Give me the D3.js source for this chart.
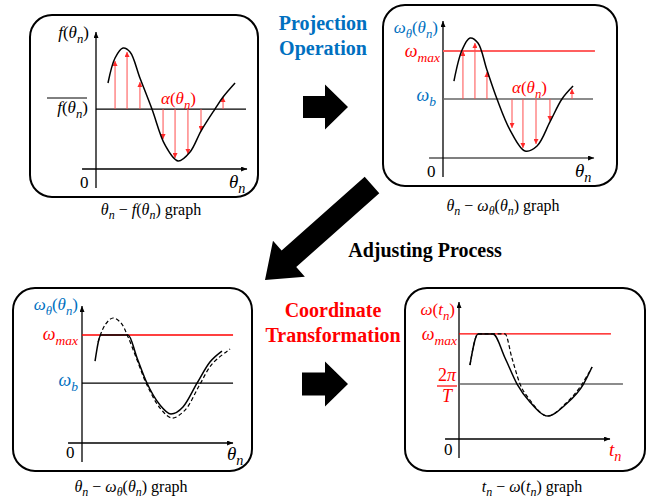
<!DOCTYPE html>
<html>
<head>
<meta charset="utf-8">
<script src="https://cdn.jsdelivr.net/npm/d3@7"></script>
<style>
  body { margin: 0; background: #fff; }
</style>
</head>
<body>
<div id="chart"></div>
<script>
// --- data (in each panel's 0..10 units) ---
const curveProj = [[0.8,6.37],[1.27,8.22],[1.8,8.96],[2.27,8.67],[2.93,6.74],[3.73,4.44],[4.6,1.78],[5.47,0.59],[6.27,1.26],[7,2.81],[7.93,4.44],[8.47,5.33],[9.27,6.37]];
const meanProj = 4.44;
const alphaProj = [[1.27,8.0],[2.07,8.67],[2.93,6.44],[4.47,2.22],[5.27,0.81],[6.13,1.11],[7.0,2.81],[8.47,5.33]];

const curveOmega = [[0.73,5.7],[1.27,8.0],[1.8,8.89],[2.33,8.52],[2.93,6.52],[3.6,4.37],[4.47,2.07],[5.47,0.52],[6.27,0.89],[7.13,2.67],[7.93,4.37],[8.67,5.33]];
const omegaB = 4.37;
const omegaMax = 7.93;
const alphaOmega = [[1.33,7.93],[2.13,8.52],[2.93,6.37],[4.6,2.22],[5.33,0.74],[6.2,1.04],[7.13,2.74],[8.6,5.11]];

const adjSolid = [[0.87,6.07],[1.27,8.0],[3.07,8.0],[3.67,6.3],[4.33,4.44],[5.2,2.81],[5.93,2.15],[6.73,2.67],[7.67,4.44],[8.53,6.0],[9.33,6.81]];
const adjDashed = [[1.07,7.48],[1.53,8.74],[2.07,9.26],[2.6,8.89],[3.07,7.85],[3.67,6.15],[4.33,4.3],[5.2,2.59],[6.0,1.85],[6.87,2.44],[7.8,4.22],[8.67,5.85],[9.87,6.96]];
const adjMax = 8.0, adjB = 4.44;

const timeSolid = [[0.73,5.48],[1.27,7.78],[2.27,7.78],[3.07,6.0],[3.87,4.07],[4.73,2.74],[5.93,1.7],[7.07,2.52],[8.3,4.07],[8.87,5.33]];
const timeDashed = [[0.73,5.48],[1.27,7.78],[3.07,7.78],[3.53,6.0],[4.07,4.07],[4.73,2.89],[5.93,1.7],[7.07,2.59],[8.1,3.9],[8.87,5.33]];
const timeMax = 7.78, timeBase = 4.07;

const stepTitles = [
  { lines: ["Projection", "Operation"], color: "#0070c0" },
  { lines: ["Adjusting Process"], color: "#000" },
  { lines: ["Coordinate", "Transformation"], color: "#ff0000" }
];

// --- setup ---
const width = 653, height = 502;
const serif = "'Liberation Serif', 'Noto Serif', serif";
const blue = "#0070c0", red = "#ff0000";

const svg = d3.select("#chart").append("svg")
  .attr("width", width).attr("height", height)
  .attr("viewBox", `0 0 ${width} ${height}`);

const defs = svg.append("defs");
function marker(id, color, w, h) {
  defs.append("marker")
    .attr("id", id).attr("viewBox", `0 0 ${w} ${h}`)
    .attr("refX", w).attr("refY", h / 2)
    .attr("markerWidth", w).attr("markerHeight", h)
    .attr("markerUnits", "userSpaceOnUse")
    .attr("orient", "auto")
    .append("path").attr("d", `M0,0L${w},${h / 2}L0,${h}Z`).attr("fill", color);
}
marker("axisHead", "#000", 6, 5);
marker("redHead", "#ff2a2a", 5, 5);

// small math typesetter: "ω_{max}", "f(θ_n)"
function mathText(parent, x, y, src, o = {}) {
  const size = o.size || 17;
  const t = parent.append("text")
    .attr("x", x).attr("y", y)
    .attr("text-anchor", o.anchor || "start")
    .style("font-family", serif).attr("font-size", size)
    .attr("fill", o.color || "#000");
  const re = /_\{([^}]*)\}|_(.)|([^_]+)/g;
  const subDy = size * 0.28;
  let m, shifted = false;
  while ((m = re.exec(src))) {
    const sub = m[1] !== undefined ? m[1] : m[2];
    if (sub !== undefined) {
      t.append("tspan").attr("dy", shifted ? 0 : subDy)
        .attr("font-size", size * 0.75).style("font-style", "italic").text(sub);
      shifted = true;
    } else {
      const runs = m[3].match(/[A-Za-z\u03b1-\u03c9]+|[^A-Za-z\u03b1-\u03c9]+/g);
      runs.forEach((r, i) => {
        const ts = t.append("tspan")
          .style("font-style", /[A-Za-z\u03b1-\u03c9]/.test(r) ? "italic" : "normal")
          .text(r);
        if (shifted && i === 0) ts.attr("dy", -subDy);
      });
      shifted = false;
    }
  }
  if (o.suffix) {
    t.append("tspan").attr("dy", shifted ? -subDy : 0)
      .style("font-style", "normal").text(o.suffix);
  }
  return t;
}

function makePanel(p) {
  const g = svg.append("g");
  g.append("rect")
    .attr("x", p.box[0]).attr("y", p.box[1])
    .attr("width", p.box[2] - p.box[0]).attr("height", p.box[3] - p.box[1])
    .attr("rx", 22).attr("ry", 22)
    .attr("fill", "none").attr("stroke", "#000").attr("stroke-width", 2);

  const x = d3.scaleLinear().domain([0, 10]).range([p.ox, p.ox + 150]);
  const y = d3.scaleLinear().domain([0, 10]).range([p.oy, p.oy - 135]);

  // axes
  g.append("line")
    .attr("x1", x(-0.93)).attr("x2", x(10.07)).attr("y1", y(0)).attr("y2", y(0))
    .attr("stroke", p.axisColor || "#000").attr("stroke-width", 1.3)
    .attr("marker-end", "url(#axisHead)");
  g.append("line")
    .attr("x1", x(0)).attr("x2", x(0)).attr("y1", y(-1.4)).attr("y2", y(10.15))
    .attr("stroke", "#000").attr("stroke-width", 1.3)
    .attr("marker-end", "url(#axisHead)");

  mathText(g, p.zero[0], p.zero[1], "0", { size: 17 });
  mathText(g, p.xLabel[0], p.xLabel[1], p.xText, { size: 19, color: p.xColor });
  mathText(g, p.yLabel[0], p.yLabel[1], p.yText, { size: 17, anchor: "end", color: p.yColor });
  mathText(g, p.caption[0], p.caption[1], p.capText, { size: 16, anchor: "middle", suffix: " graph" });
  return { g, x, y };
}

function hline(g, x, y, v, x0, x1, color, w) {
  g.append("line")
    .attr("x1", x(x0)).attr("x2", x(x1)).attr("y1", y(v)).attr("y2", y(v))
    .attr("stroke", color).attr("stroke-width", w);
}

function drawCurve(g, x, y, pts, curve, dashed) {
  const line = d3.line().x(d => x(d[0])).y(d => y(d[1])).curve(curve);
  g.append("path").datum(pts)
    .attr("d", line)
    .attr("fill", "none").attr("stroke", "#000")
    .attr("stroke-width", dashed ? 1.2 : 1.5)
    .attr("stroke-dasharray", dashed ? "4,2.5" : null);
}

function drawAlpha(g, x, y, pts, base) {
  g.selectAll(null).data(pts).join("line")
    .attr("x1", d => x(d[0])).attr("x2", d => x(d[0]))
    .attr("y1", y(base)).attr("y2", d => y(d[1]))
    .attr("stroke", "#ff4d4d").attr("stroke-width", 1)
    .attr("marker-end", "url(#redHead)");
}

// --- panel 1: θn − f(θn) ---
const p1 = makePanel({
  box: [30, 15, 258, 197], ox: 96, oy: 169,
  zero: [80, 188], xLabel: [229, 188], xText: "θ_n",
  yLabel: [89, 38], yText: "f(θ_n)",
  caption: [151, 215], capText: "θ_n − f(θ_n)"
});
hline(p1.g, p1.x, p1.y, meanProj, 0, 10, "#000", 1.3);
drawAlpha(p1.g, p1.x, p1.y, alphaProj, meanProj);
drawCurve(p1.g, p1.x, p1.y, curveProj, d3.curveCatmullRom, false);
mathText(p1.g, 88, 113, "f(θ_n)", { size: 17, anchor: "end" });
p1.g.append("line").attr("x1", 47).attr("x2", 87).attr("y1", 98).attr("y2", 98)
  .attr("stroke", "#000").attr("stroke-width", 1);
mathText(p1.g, 161, 104, "α(θ_n)", { size: 17, color: red });

// --- panel 2: θn − ωθ(θn) ---
const p2 = makePanel({
  box: [383, 5, 617, 186], ox: 443, oy: 158, axisColor: "#555",
  zero: [427, 177], xLabel: [575, 177], xText: "θ_n",
  yLabel: [438, 33], yText: "ω_θ(θ_n)", yColor: blue,
  caption: [503, 211], capText: "θ_n − ω_θ(θ_n)"
});
hline(p2.g, p2.x, p2.y, omegaMax, 0, 10.13, "#ff5f5f", 2);
hline(p2.g, p2.x, p2.y, omegaB, 0, 10, "#666", 1.6);
drawAlpha(p2.g, p2.x, p2.y, alphaOmega, omegaB);
drawCurve(p2.g, p2.x, p2.y, curveOmega, d3.curveCatmullRom, false);
mathText(p2.g, 440, 57, "ω_{max}", { size: 18, anchor: "end", color: red });
mathText(p2.g, 436, 101, "ω_b", { size: 18, anchor: "end", color: blue });
mathText(p2.g, 512, 93, "α(θ_n)", { size: 17, color: red });

// --- panel 3: adjusted θn − ωθ(θn) ---
const p3 = makePanel({
  box: [13, 288, 252, 471], ox: 82, oy: 443,
  zero: [66, 458], xLabel: [227, 460], xText: "θ_n",
  yLabel: [78, 310], yText: "ω_θ(θ_n)", yColor: blue,
  caption: [131, 492], capText: "θ_n − ω_θ(θ_n)"
});
hline(p3.g, p3.x, p3.y, adjMax, 0, 10.07, red, 1.3);
hline(p3.g, p3.x, p3.y, adjB, 0, 10.07, "#000", 1.3);
drawCurve(p3.g, p3.x, p3.y, adjDashed, d3.curveCatmullRom, true);
drawCurve(p3.g, p3.x, p3.y, adjSolid, d3.curveMonotoneX, false);
mathText(p3.g, 78, 340, "ω_{max}", { size: 18, anchor: "end", color: red });
mathText(p3.g, 78, 386, "ω_b", { size: 18, anchor: "end", color: blue });

// --- panel 4: tn − ω(tn) ---
const p4 = makePanel({
  box: [405, 288, 645, 471], ox: 459, oy: 439,
  zero: [444, 455], xLabel: [609, 456], xText: "t_n", xColor: red,
  yLabel: [455, 315], yText: "ω(t_n)", yColor: red,
  caption: [532, 492], capText: "t_n − ω(t_n)"
});
hline(p4.g, p4.x, p4.y, timeMax, 0, 10.13, red, 1.3);
hline(p4.g, p4.x, p4.y, timeBase, 0.07, 10.93, "#666", 1.6);
drawCurve(p4.g, p4.x, p4.y, timeDashed, d3.curveMonotoneX, true);
drawCurve(p4.g, p4.x, p4.y, timeSolid, d3.curveMonotoneX, false);
mathText(p4.g, 457, 340, "ω_{max}", { size: 18, anchor: "end", color: red });
mathText(p4.g, 447, 381, "2π", { size: 18, anchor: "middle", color: red });
p4.g.append("line").attr("x1", 437).attr("x2", 457).attr("y1", 386).attr("y2", 386)
  .attr("stroke", red).attr("stroke-width", 1.2);
mathText(p4.g, 447, 402, "T", { size: 18, anchor: "middle", color: red });

// --- block arrows between panels ---
const flowArrows = [
  { tail: [303, 107], tip: [348, 107], sw: 22, hl: 23, hw: 45 },
  { tail: [302, 384], tip: [348, 384], sw: 23, hl: 23, hw: 45 },
  { tail: [372, 185], tip: [265, 280], sw: 22, hl: 32, hw: 48 }
];
function blockArrow(a) {
  const dx = a.tip[0] - a.tail[0], dy = a.tip[1] - a.tail[1];
  const L = Math.hypot(dx, dy), ux = dx / L, uy = dy / L, nx = -uy, ny = ux;
  const bx = a.tip[0] - ux * a.hl, by = a.tip[1] - uy * a.hl;
  const pts = [
    [a.tail[0] + nx * a.sw / 2, a.tail[1] + ny * a.sw / 2],
    [bx + nx * a.sw / 2, by + ny * a.sw / 2],
    [bx + nx * a.hw / 2, by + ny * a.hw / 2],
    a.tip,
    [bx - nx * a.hw / 2, by - ny * a.hw / 2],
    [bx - nx * a.sw / 2, by - ny * a.sw / 2],
    [a.tail[0] - nx * a.sw / 2, a.tail[1] - ny * a.sw / 2]
  ];
  return "M" + pts.map(p => p.join(",")).join("L") + "Z";
}
svg.append("g").selectAll("path").data(flowArrows).join("path")
  .attr("d", blockArrow).attr("fill", "#000");

// --- step titles ---
const titlePos = [[323, 30], [425, 257], [333, 317]];
stepTitles.forEach((s, i) => {
  const t = svg.append("text")
    .attr("x", titlePos[i][0]).attr("y", titlePos[i][1])
    .attr("text-anchor", "middle")
    .style("font-family", serif).attr("font-weight", "bold")
    .attr("font-size", 20).attr("fill", s.color);
  s.lines.forEach((l, j) => {
    t.append("tspan").attr("x", titlePos[i][0]).attr("dy", j ? 25 : 0).text(l);
  });
});
</script>
</body>
</html>
